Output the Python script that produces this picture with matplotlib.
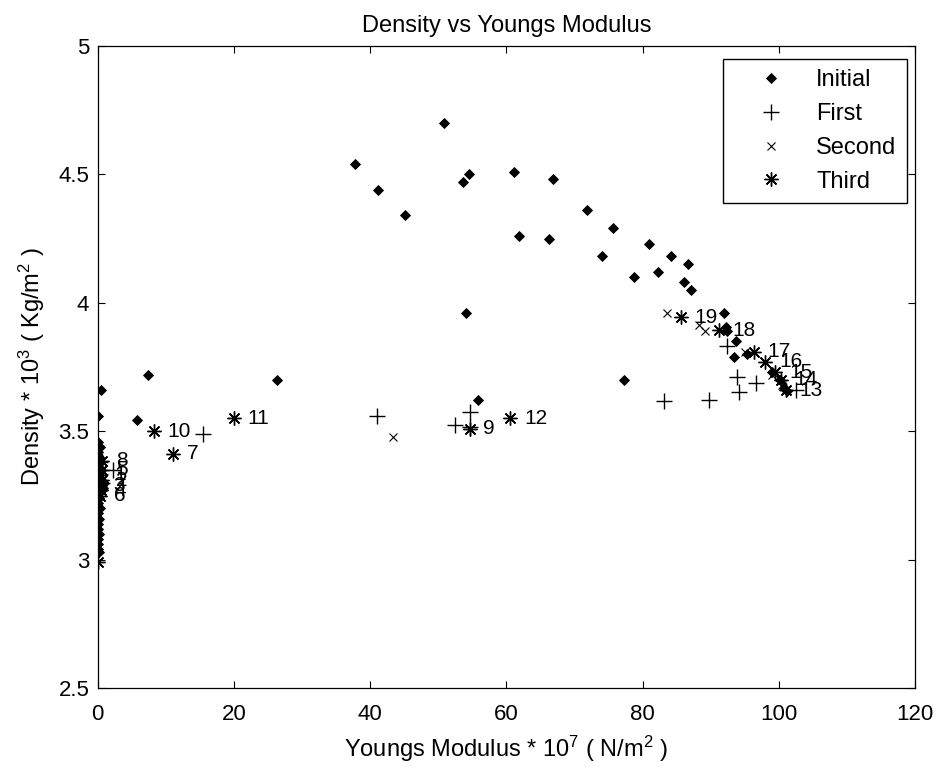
import matplotlib
matplotlib.use("Agg")
import matplotlib.pyplot as plt

plt.rcParams['font.family'] = ['Liberation Sans', 'DejaVu Sans']
plt.rcParams['mathtext.fontset'] = 'custom'
plt.rcParams['mathtext.rm'] = 'Liberation Sans'

# ---------------- data ----------------
initial_x = [37.8, 50.85, 41.2, 45.1, 53.6, 54.5, 61.05, 66.9, 61.9, 66.3,
             71.8, 75.7, 74.0, 81.0, 78.7, 84.2, 82.3, 86.7, 86.1, 87.1,
             54.1, 55.8, 77.2, 26.3, 7.4, 5.8, 0.5, 0.0,
             91.9, 92.2, 92.4, 93.7, 93.4, 95.3, 99.0, 100.2, 100.8, 101.2,
             0.1, 0.3, 0.0, 0.2, 0.4, 0.1, 0.5, 0.2, 0.0, 0.3, 0.6, 0.1, 0.4,
             0.0, 0.2, 0.1, 0.3, 0.0, 0.2, 0.1, 0.0, 0.2, 0.1, 0.0, 0.1, 0.2,
             0.8, 0.9, 0.6]
initial_y = [4.54, 4.70, 4.44, 4.34, 4.47, 4.50, 4.51, 4.48, 4.26, 4.25,
             4.36, 4.29, 4.18, 4.23, 4.10, 4.18, 4.12, 4.15, 4.08, 4.05,
             3.96, 3.62, 3.70, 3.70, 3.72, 3.545, 3.66, 3.56,
             3.96, 3.905, 3.89, 3.85, 3.79, 3.80, 3.73, 3.70, 3.67, 3.655,
             3.46, 3.44, 3.42, 3.40, 3.38, 3.36, 3.35, 3.33, 3.32, 3.30, 3.29,
             3.28, 3.27, 3.26, 3.24, 3.22, 3.20, 3.18, 3.16, 3.14, 3.12, 3.10,
             3.08, 3.06, 3.04, 3.03,
             3.28, 3.30, 3.27]

first_x = [15.4, 40.95, 52.4, 54.7, 54.6, 83.2, 89.75, 94.1, 93.9, 96.6,
           92.4, 102.5, 0.3, 2.2, 0.6, 0.4]
first_y = [3.491, 3.558, 3.523, 3.575, 3.515, 3.616, 3.62, 3.652, 3.712, 3.686,
           3.832, 3.66, 3.38, 3.35, 3.30, 3.27]

second_x = [43.4, 83.65, 88.3, 89.2, 95.0, 99.0, 100.5, 0.5, 1.0, 0.4, 0.2]
second_y = [3.476, 3.96, 3.915, 3.89, 3.81, 3.72, 3.68, 3.35, 3.32, 3.29, 3.30]

third_x = [0.4, 0.6, 0.3, 0.5, 0.7, 0.4, 11.0, 0.6, 54.6, 8.2,
           20.0, 60.6, 101.0, 100.3, 99.5, 98.0, 96.3, 91.2, 85.6, 0.1]
third_y = [3.33, 3.31, 3.29, 3.27, 3.35, 3.25, 3.412, 3.385, 3.51, 3.50,
           3.55, 3.551, 3.66, 3.70, 3.73, 3.77, 3.81, 3.893, 3.944, 2.99]
third_labels = ['1', '2', '3', '4', '5', '6', '7', '8', '9', '10',
                '11', '12', '13', '14', '15', '16', '17', '18', '19', '']

xticks = [0, 20, 40, 60, 80, 100, 120]
yticks = [2.5, 3, 3.5, 4, 4.5, 5]
ytick_labels = ['2.5', '3', '3.5', '4', '4.5', '5']

# ---------------- figure ----------------
fig = plt.figure(figsize=(9.39, 7.69), dpi=100)
ax = fig.add_axes([0.104, 0.105, 0.8705, 0.8355])

FS_TXT = 17
FS_TICK = 16
FS_ANN = 15

ax.plot(initial_x, initial_y, linestyle='none', marker='D', ms=5,
        mfc='black', mec='black', mew=0.6, label='Initial')
ax.plot(first_x, first_y, linestyle='none', marker='+', ms=12,
        color='black', mew=1.0, label='First')
ax.plot(second_x, second_y, linestyle='none', marker='x', ms=6,
        color='black', mew=0.8, label='Second')
ax.plot(third_x, third_y, linestyle='none', marker=(8, 2, 0), ms=10,
        color='black', mew=1.0, label='Third')

for x, y, t in zip(third_x, third_y, third_labels):
    if t:
        ax.annotate(t, (x, y), xytext=(10, 0), textcoords='offset points',
                    ha='left', va='center', fontsize=FS_ANN)

ax.set_xlim(0, 120)
ax.set_ylim(2.5, 5)
ax.set_xticks(xticks)
ax.set_yticks(yticks)
ax.set_yticklabels(ytick_labels)
ax.tick_params(direction='in', length=5, width=0.8, top=True, right=True,
               labelsize=FS_TICK)
ax.tick_params(axis='x', pad=11)
ax.tick_params(axis='y', pad=6)
for s in ax.spines.values():
    s.set_linewidth(0.9)

ax.set_title('Density vs Youngs Modulus', fontsize=FS_TXT, pad=10)
ax.set_xlabel('Youngs Modulus * 10$\\mathregular{^7}$ ( N/m$\\mathregular{^2}$ )',
              fontsize=FS_TXT, labelpad=7)
ax.set_ylabel('Density * 10$\\mathregular{^3}$ ( Kg/m$\\mathregular{^2}$ )',
              fontsize=FS_TXT, labelpad=8)

leg = ax.legend(loc='upper right', bbox_to_anchor=(0.9902, 0.980),
                fontsize=FS_TXT, frameon=True, fancybox=False,
                edgecolor='black', framealpha=1, handlelength=3.2,
                handletextpad=0.3, borderpad=0.45, labelspacing=0.5,
                borderaxespad=0.0, numpoints=1)
leg.get_frame().set_linewidth(1.0)

fig.savefig('out.png', dpi=100, facecolor='white')
